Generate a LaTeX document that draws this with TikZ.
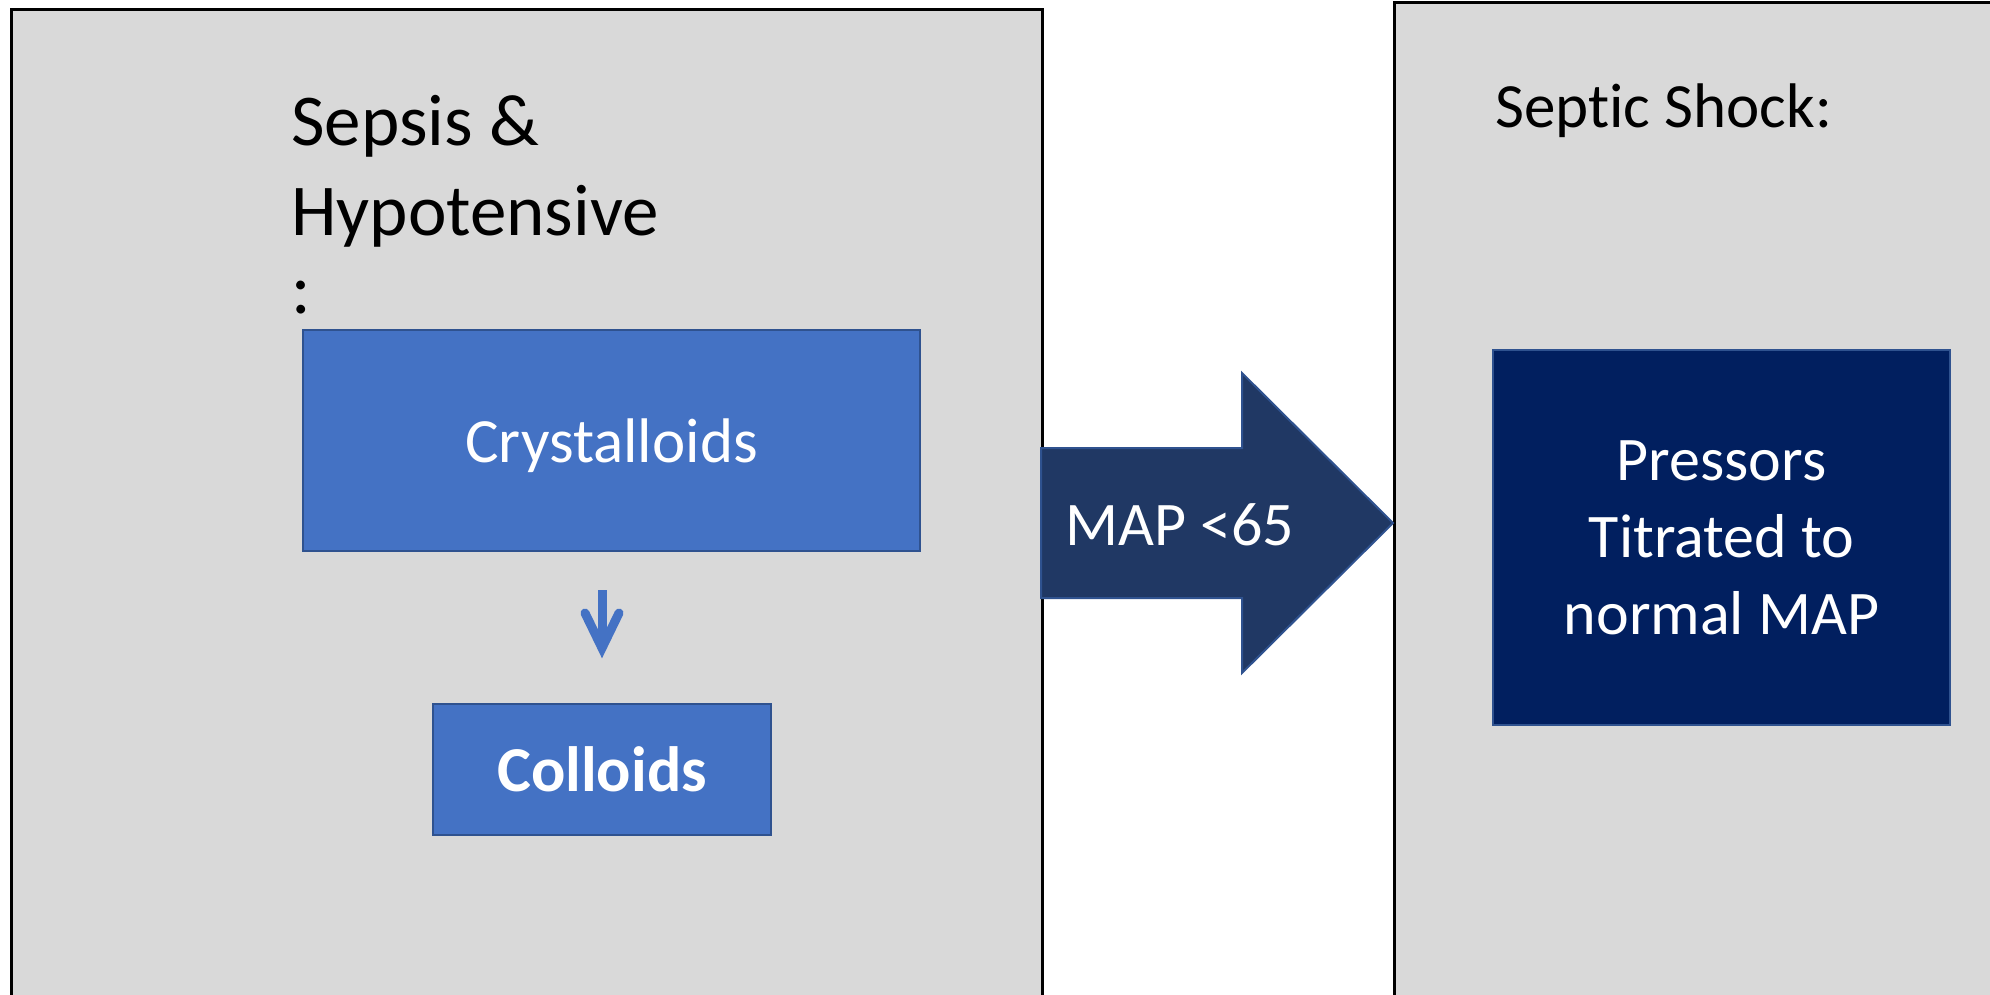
\documentclass[tikz,border=0pt]{standalone}
\usepackage{fontspec}
\setmainfont{Carlito}[Ligatures=NoCommon]
\usetikzlibrary{calc}
\definecolor{panelgray}{HTML}{D9D9D9}
\definecolor{accblue}{HTML}{4472C4}
\definecolor{accedge}{HTML}{2F528F}
\definecolor{arrowblue}{HTML}{203864}
\definecolor{navyfill}{HTML}{011F5F}
\tikzset{
  panel/.style={draw=black, fill=panelgray, line width=2.5pt, anchor=north west, inner sep=0pt},
  bluebox/.style={draw=accedge, fill=accblue, line width=2pt, inner sep=0pt, text=white},
  navybox/.style={draw=accedge, fill=navyfill, line width=2pt, inner sep=0pt, text=white, align=center,
    font=\fontsize{62}{77}\selectfont},
  titletext/.style={anchor=base west, inner sep=0pt, text=black},
  smallarr/.style={draw=accblue, line width=9pt},
  bigarrow/.style={fill=arrowblue, draw=accedge, line width=2pt, line join=miter},
}
\begin{document}
\begin{tikzpicture}[x=1pt,y=-1pt]
\useasboundingbox (0,0) rectangle (1990,994);
\clip (0,0) rectangle (1990,994);
% panels
\node[panel, minimum width=1031pt, minimum height=1010pt] (leftpanel) at (10,8) {};
\node[panel, minimum width=650pt, minimum height=1010pt] (rightpanel) at (1393,1) {};
% left titles
\node[titletext, font=\fontsize{73}{86}\selectfont] (sep1) at (291,145) {Sepsis \&};
\node[titletext, font=\fontsize{73}{86}\selectfont] (sep2) at (291,235) {Hypotensive};
\node[titletext, font=\fontsize{73}{86}\selectfont] (sep3) at (291,313) {:};
% boxes
\node[bluebox, minimum width=617pt, minimum height=221pt, text depth=0pt, font=\fontsize{63}{76}\selectfont] (crystal) at (611.5,440.5) {Crystalloids};
\node[bluebox, minimum width=338pt, minimum height=131pt, font=\fontsize{64}{76}\selectfont\bfseries] (colloid) at (602,769.5) {Colloids};
% small arrow
\coordinate (a1) at (602,590);
\coordinate (a2) at (602,648);
\draw[smallarr] (a1) -- (a2);
\draw[smallarr, line cap=round, line join=miter] ($(a2)+(-17,-35)$) -- (a2) -- ($(a2)+(17,-35)$);
% big arrow
\coordinate (b1) at (1041,448);
\coordinate (b2) at (1242,448);
\coordinate (b3) at (1242,373);
\coordinate (tip) at (1393,523);
\coordinate (b5) at (1242,673);
\coordinate (b6) at (1242,598);
\coordinate (b7) at (1041,598);
\draw[bigarrow] (b1) -- (b2) -- (b3) -- (tip) -- (b5) -- (b6) -- (b7) -- cycle;
\node[anchor=base west, inner sep=0pt, text=white, font=\fontsize{62}{74}\selectfont] (maplabel) at (1065,545) {MAP <65};
% right panel
\node[titletext, font=\fontsize{63}{76}\selectfont] (septic) at (1495,127) {Septic Shock:};
\node[navybox, minimum width=457pt, minimum height=375pt] (pressors) at (1721.5,537.5) {Pressors\\Titrated to\\normal MAP};
\end{tikzpicture}
\end{document}
